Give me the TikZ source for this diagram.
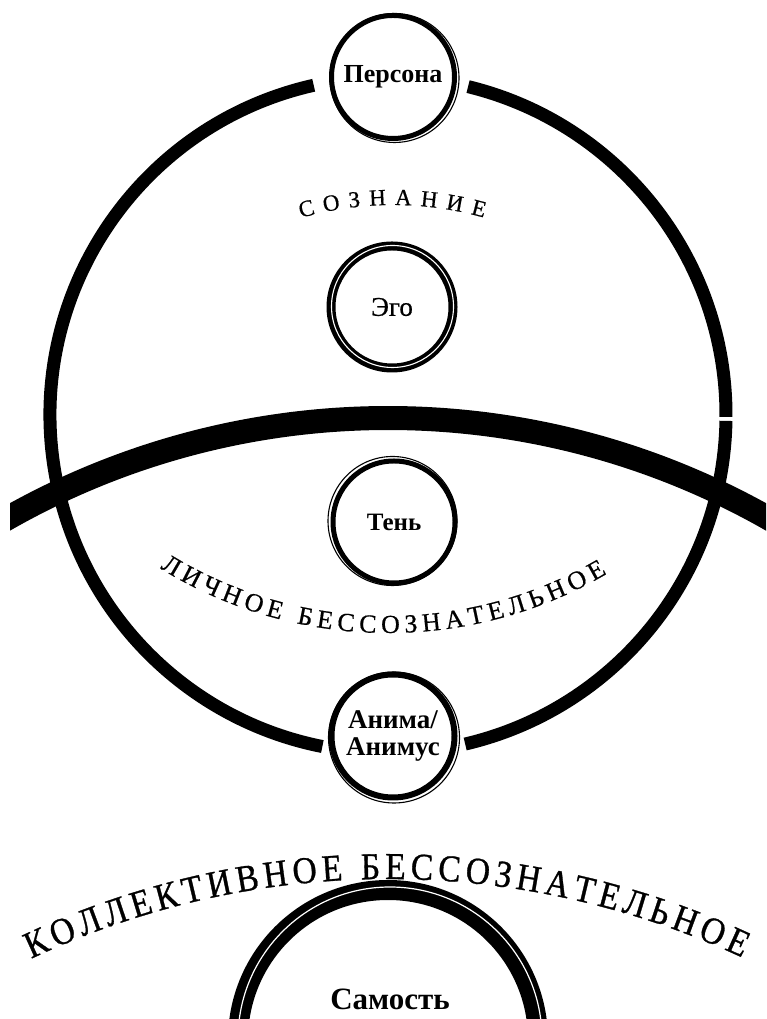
\documentclass[tikz,border=0pt]{standalone}
\usepackage{fontspec}
\setmainfont{Liberation Serif}
\newfontfamily\capsfont[FakeBold=0.6]{Liberation Serif}
\newfontfamily\widecaps[FakeBold=0.8,FakeStretch=0.88]{Liberation Serif}
\usetikzlibrary{decorations.text}
\begin{document}
\begin{tikzpicture}[x=1pt,y=1pt,
  ring/.style={circle, draw, line width=5, inner sep=0pt, fill=white, align=center,
    font=\bfseries\fontsize{26}{28}\selectfont},
  sketch/.style={line width=1.1},
  bigline/.style={line width=13},
  curvedtext/.style={decorate, decoration={text along path, text align=fit to path, text={#1}}}
]
\useasboundingbox (0,0) rectangle (766,1019);
\fill[white] (0,0) rectangle (766,1019);

% large circle (consciousness + personal unconscious), drawn in pieces
\draw[bigline] (388,604) ++(102.7:338) arc[start angle=102.7, end angle=258.8, radius=338];
\draw[bigline] (388,604) ++(283.2:338) arc[start angle=283.2, end angle=359.0, radius=338];
\draw[bigline] (388,604) ++(-0.3:338) arc[start angle=-0.3, end angle=76.3, radius=338];

% thick dividing arc
\begin{scope}
\clip (10,0) rectangle (766,1019);
\draw[line width=24] (388,-171) ++(121:772) arc[start angle=121, end angle=58, radius=772];
\end{scope}

% small circles
\node[ring, minimum size=123] (persona) at (393,942) {Персона};
\node[ring, minimum size=122, line width=9, font=\capsfont\fontsize{27}{28}\selectfont] (ego) at (392,712) {Эго};
\node[ring, minimum size=122, font=\bfseries\fontsize{25}{28}\selectfont] (shadow) at (394,497) {Тень};
\node[ring, minimum size=123, line width=6, font=\bfseries\fontsize{27}{27}\selectfont] (anima) at (393,283) {Анима/\\Анимус};

\draw[sketch] ([shift={(1.5,-1)}]persona.center) circle[radius=64.5];
\draw[sketch, white] ([shift={(0.5,0.5)}]ego.center) circle[radius=61];
\draw[sketch] ([shift={(-1.5,1)}]shadow.center) circle[radius=64.5];
\draw[sketch] ([shift={(1,-1.5)}]anima.center) circle[radius=65.5];

% the Self
\node[circle, draw, line width=20, minimum size=300, inner sep=0pt] (self) at (388,-21) {};
\draw[line width=1.2, white] ([shift={(2,1)}]self.center) circle[radius=152];
\node[font=\bfseries\fontsize{31}{31}\selectfont] (selftext) at (390,20) {Самость};

% curved labels
\path[curvedtext={|\capsfont\fontsize{23}{23}\selectfont|СОЗНАНИЕ}]
  (393,480) ++(106.0:334) arc[start angle=106.0, end angle=74.2, radius=334];
\path[curvedtext={|\capsfont\fontsize{26}{26}\selectfont|ЛИЧНОЕ БЕССОЗНАТЕЛЬНОЕ}]
  (388,820) ++(238.3:434) arc[start angle=238.3, end angle=300.3, radius=434];
\path[curvedtext={|\widecaps\fontsize{38}{38}\selectfont|КОЛЛЕКТИВНОЕ БЕССОЗНАТЕЛЬНОЕ}]
  (388,-698) ++(115.2:838) arc[start angle=115.2, end angle=65.0, radius=838];
\end{tikzpicture}
\end{document}
